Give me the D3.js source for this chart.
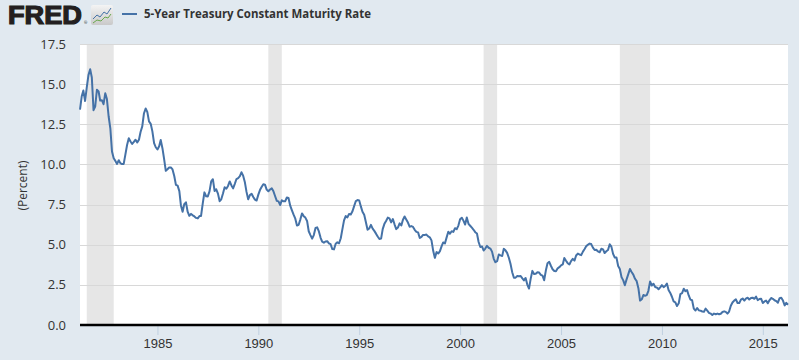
<!DOCTYPE html>
<html lang="en">

<head>
  <meta charset="utf-8">
  <title>5-Year Treasury Constant Maturity Rate</title>
  <script src="https://cdn.jsdelivr.net/npm/d3@7"></script>
  <style>
    body { margin: 0; background: #e1e9f0; }
    svg { display: block; font-family: "Open Sans", "DejaVu Sans", sans-serif; }
    .grid line { stroke: #d8d8d8; stroke-width: 1; }
    .y-label { fill: #333; font-size: 13px; }
    .x-axis text { fill: #333; font-size: 13px; }
    .x-axis .tick line { stroke: #c0d0e0; }
  </style>
</head>

<body>
  <svg id="chart" width="799" height="360"></svg>

  <script>
    // monthly GS5 values, first month is March 1981
    var firstMonth = new Date(1981, 2, 1);
    var rates = [
      13.41, 14.24, 14.60, 13.95, 14.79, 15.56, 15.93, 15.41, 13.38, 13.60,
      14.65, 14.54, 13.98, 14.00, 13.75, 14.43, 14.07, 13.00, 12.25, 10.80, 10.38, 10.22,
      10.03, 10.26, 10.08, 10.02, 10.03, 10.63, 11.21, 11.63, 11.43, 11.28, 11.41, 11.54,
      11.37, 11.54, 12.02, 12.37, 13.17, 13.48, 13.27, 12.68, 12.53, 12.06, 11.33, 11.07,
      10.93, 11.13, 11.52, 11.01, 10.34, 9.60, 9.70, 9.81, 9.81, 9.69, 9.28, 8.73,
      8.68, 8.34, 7.46, 7.05, 7.52, 7.64, 7.06, 6.80, 6.92, 6.83, 6.76, 6.67,
      6.64, 6.79, 6.79, 7.57, 8.26, 8.02, 8.01, 8.32, 8.94, 9.08, 8.35, 8.45,
      8.18, 7.71, 7.83, 8.19, 8.58, 8.49, 8.66, 8.94, 8.69, 8.51, 8.79, 9.09,
      9.15, 9.27, 9.51, 9.30, 8.91, 8.29, 7.83, 8.09, 8.17, 7.97, 7.81, 7.75,
      8.12, 8.42, 8.60, 8.77, 8.74, 8.43, 8.33, 8.44, 8.51, 8.33, 8.02, 7.73,
      7.70, 7.47, 7.77, 7.70, 7.70, 7.94, 7.91, 7.43, 7.14, 6.87, 6.62, 6.19,
      6.24, 6.58, 6.95, 6.78, 6.69, 6.48, 5.84, 5.60, 5.38, 5.60, 6.04, 6.08,
      5.83, 5.43, 5.19, 5.13, 5.20, 5.22, 5.09, 5.03, 4.73, 4.71, 5.06, 5.15,
      5.09, 5.40, 5.94, 6.52, 6.78, 6.70, 6.91, 6.88, 7.08, 7.40, 7.72, 7.78,
      7.76, 7.37, 7.05, 6.86, 6.41, 5.93, 6.01, 6.24, 6.00, 5.86, 5.69, 5.51,
      5.36, 5.38, 5.97, 6.30, 6.48, 6.69, 6.64, 6.39, 6.60, 6.27, 5.97, 6.07,
      6.33, 6.20, 6.54, 6.76, 6.57, 6.38, 6.12, 6.16, 6.11, 5.93, 5.80, 5.77,
      5.42, 5.49, 5.61, 5.61, 5.63, 5.52, 5.46, 5.27, 4.62, 4.18, 4.54, 4.45,
      4.60, 4.91, 5.14, 5.08, 5.44, 5.81, 5.68, 5.84, 5.80, 6.03, 5.97, 6.19,
      6.58, 6.68, 6.50, 6.26, 6.69, 6.30, 6.18, 6.06, 5.93, 5.78, 5.70, 5.17,
      4.86, 4.89, 4.64, 4.76, 4.93, 4.81, 4.76, 4.57, 4.12, 3.91, 3.97, 4.39,
      4.34, 4.30, 4.74, 4.65, 4.49, 4.19, 3.81, 3.29, 2.94, 2.95, 3.05, 3.03,
      3.05, 2.90, 2.78, 2.93, 2.52, 2.27, 2.87, 3.37, 3.18, 3.19, 3.29, 3.27,
      3.12, 3.07, 2.79, 3.39, 3.85, 3.93, 3.69, 3.47, 3.36, 3.35, 3.53, 3.60,
      3.71, 3.77, 4.17, 4.00, 3.85, 3.77, 3.98, 4.12, 4.01, 4.33, 4.45, 4.39,
      4.35, 4.57, 4.72, 4.90, 5.00, 5.07, 5.04, 4.82, 4.67, 4.69, 4.58, 4.53,
      4.75, 4.71, 4.48, 4.59, 4.67, 5.03, 4.88, 4.43, 4.20, 4.20, 3.67, 3.49,
      2.98, 2.78, 2.48, 2.84, 3.15, 3.49, 3.30, 3.14, 2.88, 2.73, 2.29, 1.52,
      1.60, 1.87, 1.82, 1.86, 2.13, 2.71, 2.46, 2.57, 2.37, 2.33, 2.23, 2.34,
      2.48, 2.36, 2.43, 2.58, 2.18, 2.00, 1.76, 1.47, 1.41, 1.18, 1.35, 1.93,
      1.99, 2.26, 2.11, 2.17, 1.84, 1.58, 1.54, 1.02, 0.90, 1.06, 0.91, 0.89,
      0.84, 0.83, 1.02, 0.89, 0.76, 0.71, 0.62, 0.71, 0.67, 0.71, 0.67, 0.70,
      0.81, 0.85, 0.82, 0.71, 0.84, 1.20, 1.40, 1.52, 1.60, 1.37, 1.37, 1.58,
      1.65, 1.52, 1.64, 1.70, 1.59, 1.68, 1.70, 1.63, 1.77, 1.55, 1.62, 1.64,
      1.37, 1.47, 1.52, 1.35, 1.54, 1.68, 1.63, 1.54, 1.49, 1.39, 1.67, 1.70,
      1.52, 1.22, 1.38, 1.26
    ];

    // recession shading (start, end)
    var recessions = [
      ["1981-07-01", "1982-11-01"],
      ["1990-07-01", "1991-03-01"],
      ["2001-03-01", "2001-11-01"],
      ["2007-12-01", "2009-06-01"]
    ];

    var yTicks = [0, 2.5, 5, 7.5, 10, 12.5, 15, 17.5];
    var xTickYears = [1985, 1990, 1995, 2000, 2005, 2010, 2015];

    var seriesTitle = "5-Year Treasury Constant Maturity Rate";
    var yTitle = "(Percent)";

    var data = rates.map(function (v, i) {
      return { date: d3.timeMonth.offset(firstMonth, i), value: v };
    });

    var margin = { top: 44, right: 11, bottom: 35, left: 80 };
    var width = 799, height = 360;

    var svg = d3.select("#chart");

    var x = d3.scaleTime()
      .domain([firstMonth, data[data.length - 1].date])
      .range([margin.left, width - margin.right]);

    var y = d3.scaleLinear()
      .domain([0, 17.5])
      .range([height - margin.bottom, margin.top]);

    // plot background
    svg.append("rect")
      .attr("x", margin.left)
      .attr("y", margin.top)
      .attr("width", width - margin.right - margin.left)
      .attr("height", height - margin.bottom - margin.top)
      .attr("fill", "#fff");

    // recession bars
    var parse = d3.timeParse("%Y-%m-%d");
    svg.append("g").selectAll("rect")
      .data(recessions)
      .join("rect")
      .attr("x", function (d) { return x(parse(d[0])); })
      .attr("width", function (d) { return x(parse(d[1])) - x(parse(d[0])); })
      .attr("y", margin.top)
      .attr("height", height - margin.bottom - margin.top)
      .attr("fill", "#e6e6e6");

    // horizontal grid
    svg.append("g").attr("class", "grid").selectAll("line")
      .data(yTicks.slice(1))
      .join("line")
      .attr("x1", margin.left)
      .attr("x2", width - margin.right)
      .attr("y1", function (d) { return Math.round(y(d)) + 0.5; })
      .attr("y2", function (d) { return Math.round(y(d)) + 0.5; });

    // y labels
    svg.append("g").selectAll("text")
      .data(yTicks)
      .join("text")
      .attr("class", "y-label")
      .attr("x", 66)
      .attr("y", function (d) { return y(d); })
      .attr("dy", "0.35em")
      .attr("text-anchor", "end")
      .text(function (d) { return d3.format(".1f")(d); });

    svg.append("text")
      .attr("transform", "translate(27," + (y(8.75) + 1) + ") rotate(-90)")
      .attr("text-anchor", "middle")
      .attr("fill", "#333")
      .attr("font-size", "12px")
      .text(yTitle);

    // x axis
    var xAxis = d3.axisBottom(x)
      .tickValues(xTickYears.map(function (yr) { return new Date(yr, 0, 1); }))
      .tickFormat(d3.timeFormat("%Y"))
      .tickSize(10)
      .tickPadding(4);

    var gx = svg.append("g")
      .attr("class", "x-axis")
      .attr("transform", "translate(0," + (height - margin.bottom) + ")")
      .call(xAxis);
    gx.select(".domain").remove();

    svg.append("line")
      .attr("x1", margin.left)
      .attr("x2", width - margin.right)
      .attr("y1", height - margin.bottom)
      .attr("y2", height - margin.bottom)
      .attr("stroke", "#000")
      .attr("stroke-width", 2.5);

    // series line
    var line = d3.line()
      .x(function (d) { return x(d.date); })
      .y(function (d) { return y(d.value); });

    svg.append("path")
      .datum(data)
      .attr("fill", "none")
      .attr("stroke", "#4572a7")
      .attr("stroke-width", 2)
      .attr("stroke-linejoin", "round")
      .attr("d", line);

    // header: FRED logo
    svg.append("text")
      .attr("x", 8)
      .attr("y", 24)
      .attr("font-family", "'Liberation Sans', Arial, sans-serif")
      .attr("font-weight", "bold")
      .attr("font-size", "25px")
      .attr("textLength", 74)
      .attr("lengthAdjust", "spacingAndGlyphs")
      .attr("fill", "#231f20")
      .attr("stroke", "#231f20")
      .attr("stroke-width", 1.2)
      .text("FRED");

    svg.append("text")
      .attr("x", 84)
      .attr("y", 24)
      .attr("font-size", "4px")
      .attr("fill", "#231f20")
      .text("®");

    var icon = svg.append("g").attr("transform", "translate(91,5)");
    var grad = svg.append("defs").append("linearGradient")
      .attr("id", "iconGrad").attr("x1", 0).attr("y1", 0).attr("x2", 0).attr("y2", 1);
    grad.append("stop").attr("offset", "0%").attr("stop-color", "#f4f4f4");
    grad.append("stop").attr("offset", "100%").attr("stop-color", "#c9c9c9");
    icon.append("rect")
      .attr("width", 22).attr("height", 20).attr("rx", 2)
      .attr("fill", "url(#iconGrad)");
    icon.append("polyline")
      .attr("points", "2,14 6,10 9,12 13,7 16,9 20,3")
      .attr("fill", "none").attr("stroke", "#4572a7").attr("stroke-width", 1);
    icon.append("polyline")
      .attr("points", "2,18 6,15 10,16 14,12 17,13 20,9")
      .attr("fill", "none").attr("stroke", "#6aa84f").attr("stroke-width", 1);

    // legend
    svg.append("line")
      .attr("x1", 122).attr("x2", 137)
      .attr("y1", 14).attr("y2", 14)
      .attr("stroke", "#4572a7")
      .attr("stroke-width", 2);

    svg.append("text")
      .attr("x", 144)
      .attr("y", 18)
      .attr("font-size", "12px")
      .attr("font-weight", "bold")
      .attr("fill", "#333")
      .attr("textLength", 227)
      .attr("lengthAdjust", "spacingAndGlyphs")
      .text(seriesTitle);
  </script>
</body>

</html>
